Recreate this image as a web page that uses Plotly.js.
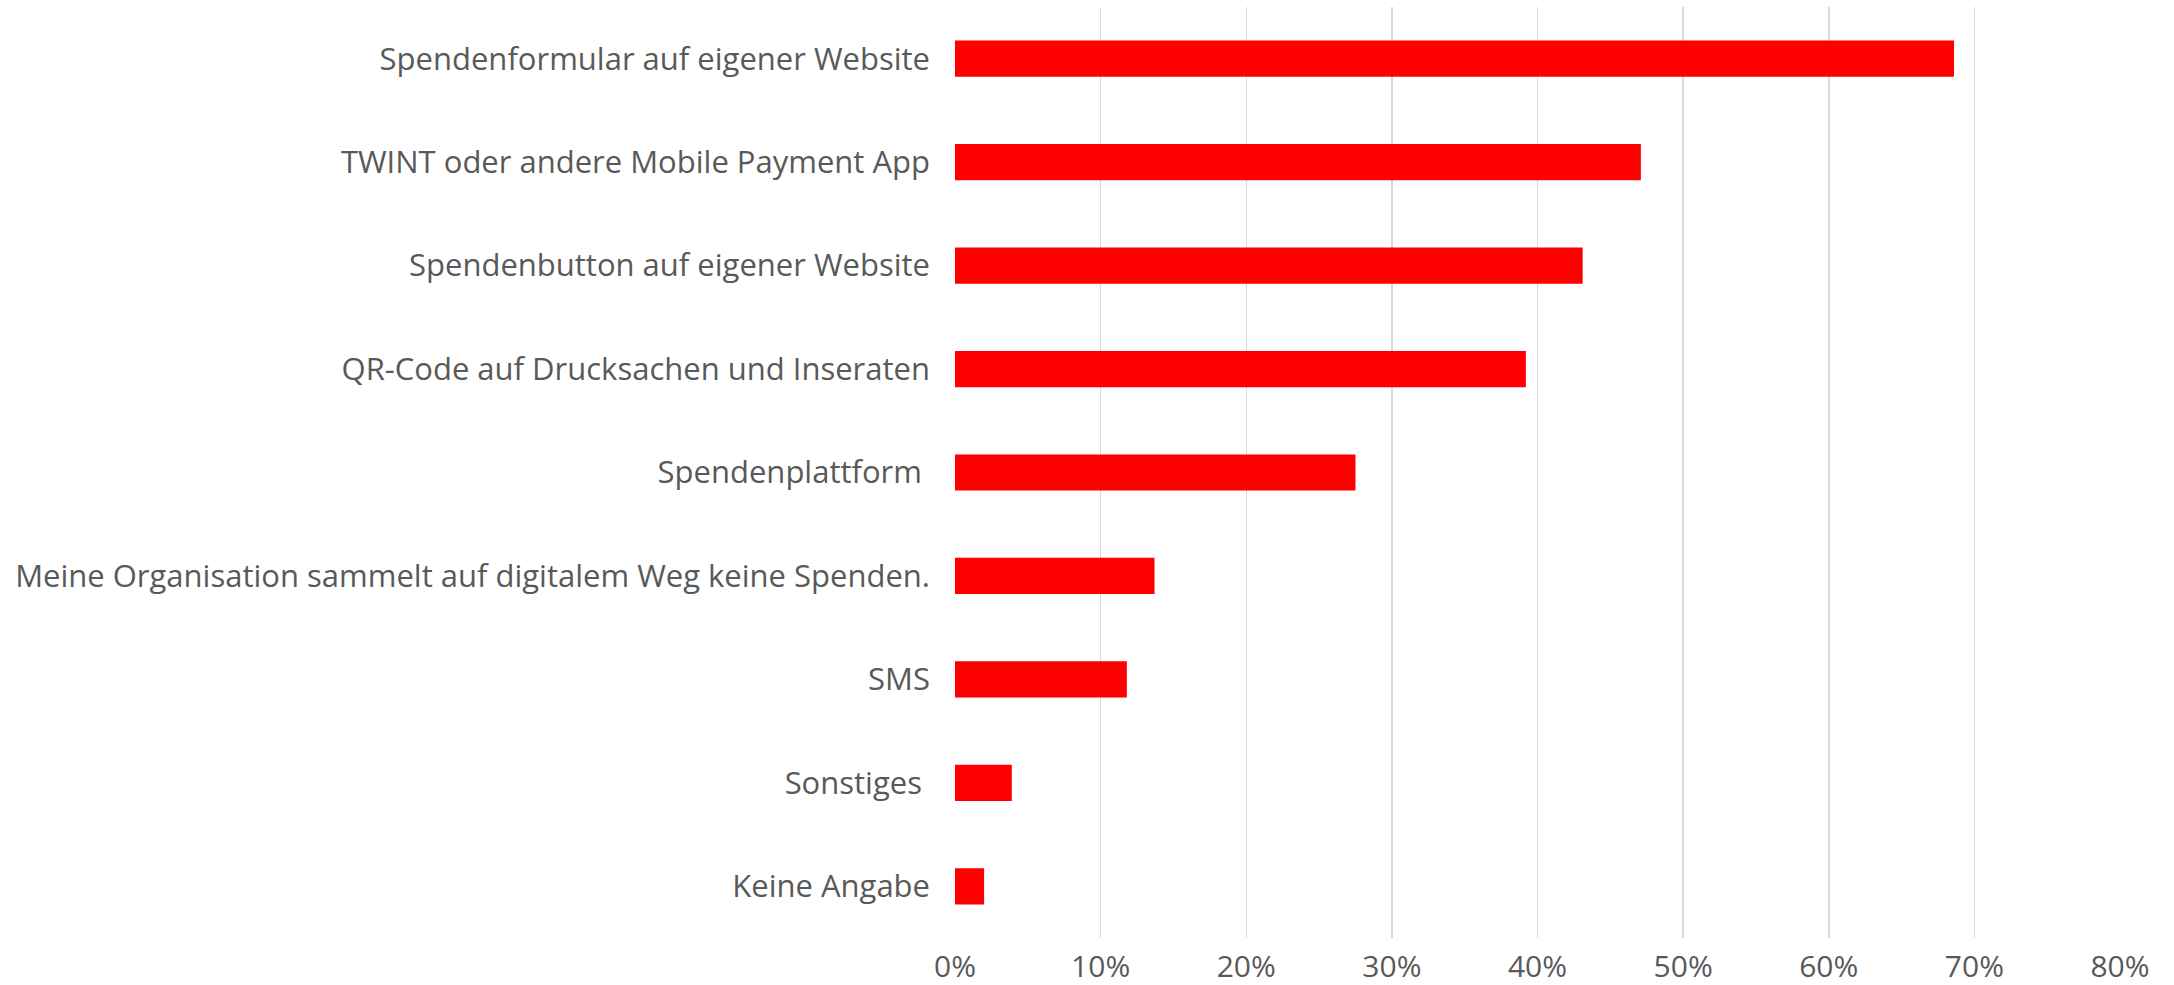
<!DOCTYPE html>
<html>
<head>
<meta charset="utf-8">
<script src="https://cdn.plot.ly/plotly-3.0.1.min.js"></script>
<style>
  html, body { margin: 0; padding: 0; background: #fff; }
  #chart { width: 2174px; height: 985px; }
</style>
</head>
<body>
<div id="chart"></div>
<script>
const categories = [
  'Spendenformular auf eigener Website',
  'TWINT oder andere Mobile Payment App',
  'Spendenbutton auf eigener Website',
  'QR-Code auf Drucksachen und Inseraten',
  'Spendenplattform ',
  'Meine Organisation sammelt auf digitalem Weg keine Spenden.',
  'SMS',
  'Sonstiges ',
  'Keine Angabe'
];
const shares = [0.686, 0.471, 0.431, 0.392, 0.275, 0.137, 0.118, 0.039, 0.020];
const xTicks = [0, 0.1, 0.2, 0.3, 0.4, 0.5, 0.6, 0.7, 0.8];
const xTickText = ['0%', '10%', '20%', '30%', '40%', '50%', '60%', '70%', '80%'];

const trace = {
  type: 'bar',
  orientation: 'h',
  x: shares,
  y: categories,
  marker: { color: '#ff0000' },
  hoverinfo: 'x+y'
};

const layout = {
  width: 2174,
  height: 985,
  margin: { l: 955, r: 54, t: 7, b: 47 },
  paper_bgcolor: '#ffffff',
  plot_bgcolor: '#ffffff',
  font: { family: '"Open Sans", sans-serif', size: 30, color: '#595959' },
  bargap: 0.65,
  showlegend: false,
  xaxis: {
    range: [0, 0.8],
    tickvals: xTicks,
    ticktext: xTickText,
    showgrid: true,
    gridcolor: '#d9d9d9',
    gridwidth: 1.5,
    zeroline: false,
    showline: false,
    ticks: '',
    ticklabelstandoff: 8,
    automargin: false,
    fixedrange: true
  },
  yaxis: {
    autorange: 'reversed',
    showgrid: false,
    zeroline: false,
    showline: false,
    ticks: '',
    tickfont: { size: 31 },
    ticklabelstandoff: 24,
    automargin: false,
    fixedrange: true
  }
};

Plotly.newPlot('chart', [trace], layout, { displayModeBar: false, staticPlot: true });
</script>
</body>
</html>
